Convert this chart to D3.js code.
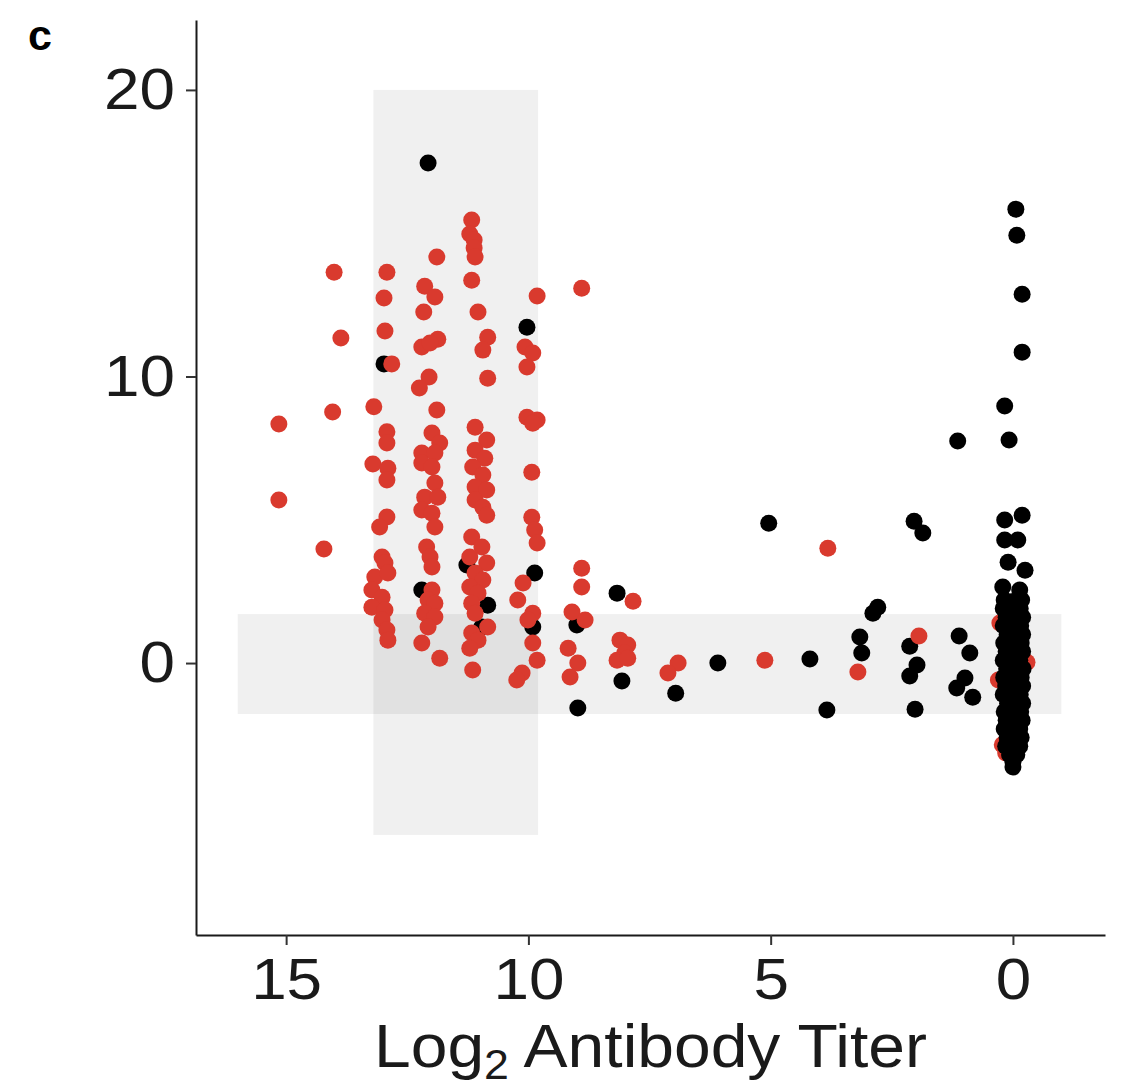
<!DOCTYPE html>
<html>
<head>
<meta charset="utf-8">
<script src="https://cdn.jsdelivr.net/npm/d3@7"></script>
<style>
  body { margin: 0; background: #fff; }
  text { font-family: "Liberation Sans", Arial, Helvetica, sans-serif; }
</style>
</head>
<body>
<div id="chart"></div>
<script>
const xTicks = [15, 10, 5, 0];
const yTicks = [0, 10, 20];

// shaded reference bands: [x0, x1, y0, y1] in data units
const titerBand = [9.8, 13.2, -6.0, 20.0];
const valueBand = [-1.0, 16.0, -1.78, 1.71];

// [log2 titer, value]
const redPoints = [
  [15.15, 8.34], [15.15, 5.69], [14.22, 3.98], [14.04, 8.76], [13.87, 11.34], [14.01, 13.64],
  [12.92, 13.64], [12.98, 12.74], [12.96, 11.59], [12.82, 10.44], [13.19, 8.94], [12.92, 8.07],
  [12.92, 7.68], [13.21, 6.95], [12.90, 6.80], [12.92, 6.39], [12.92, 5.10], [13.07, 4.75],
  [13.02, 3.70], [12.96, 3.49], [13.17, 3.00], [12.90, 3.14], [13.23, 2.55], [13.02, 2.30],
  [13.23, 1.95], [12.96, 1.85], [13.02, 1.50], [12.92, 1.15], [12.90, 0.80],
  [11.89, 14.17], [12.14, 13.15], [11.93, 12.77], [12.16, 12.25], [12.20, 11.03], [11.87, 11.30],
  [12.03, 11.17], [12.05, 9.98], [12.25, 9.60], [11.89, 8.83], [11.99, 8.03], [11.83, 7.68],
  [12.20, 7.33], [11.93, 7.33], [12.20, 6.98], [11.99, 6.84], [11.93, 6.28], [12.14, 5.79],
  [11.87, 5.79], [12.20, 5.34], [11.99, 5.23], [11.93, 4.75], [12.10, 4.05], [12.03, 3.70],
  [11.99, 3.35], [11.99, 2.55], [12.07, 2.20], [11.93, 2.09], [12.14, 1.74], [11.93, 1.61],
  [12.07, 1.26], [12.20, 0.70], [11.83, 0.17],
  [11.17, 15.46], [11.21, 14.97], [11.12, 14.76], [11.12, 14.48], [11.10, 14.17], [11.17, 13.36],
  [11.04, 12.25], [10.84, 11.37], [10.94, 10.92], [10.84, 9.94], [11.10, 8.23], [10.86, 7.78],
  [11.10, 7.43], [10.90, 7.15], [11.15, 6.84], [10.94, 6.56], [11.10, 6.14], [10.86, 6.04],
  [11.10, 5.69], [10.94, 5.44], [10.86, 5.16], [11.17, 4.40], [10.96, 4.05], [11.21, 3.70],
  [10.86, 3.49], [11.10, 3.14], [10.94, 2.90], [11.21, 2.65], [11.04, 2.44], [11.17, 2.09],
  [11.10, 1.74], [10.84, 1.26], [11.17, 1.05], [11.04, 0.80], [11.21, 0.52], [11.15, -0.24],
  [9.82, 12.81], [10.07, 11.03], [9.91, 10.82], [10.03, 10.33], [10.03, 8.58], [9.82, 8.48],
  [9.91, 8.37], [9.93, 6.66], [9.93, 5.09], [9.87, 4.64], [9.82, 4.19], [10.11, 2.79],
  [10.22, 2.20], [9.91, 1.74], [10.01, 1.50], [9.91, 0.70], [9.82, 0.10], [10.13, -0.35],
  [10.24, -0.59],
  [8.90, 13.08], [8.90, 3.31], [8.90, 2.65], [9.10, 1.78], [8.83, 1.50], [9.18, 0.52],
  [8.98, 0.00], [9.14, -0.49],
  [7.84, 2.16], [8.11, 0.80], [7.95, 0.63], [8.01, 0.35], [8.17, 0.10], [7.95, 0.17],
  [6.91, 0.00], [7.12, -0.35], [5.12, 0.10], [3.82, 4.01], [3.20, -0.31], [1.94, 0.94]
];

// red points sitting inside the titer-0 cluster (drawn underneath)
const redZero = [[0.27, 1.40], [-0.29, 0.03], [0.30, -0.59], [0.15, -3.14], [0.22, -2.85]];

const blackPoints = [
  [12.07, 17.45], [12.20, 2.55], [12.98, 10.44], [11.27, 3.42], [10.84, 2.02], [10.96, 1.26],
  [10.03, 11.72], [9.87, 3.14], [9.91, 1.26], [9.00, 1.33], [8.98, -1.57], [8.17, 2.44],
  [8.07, -0.63], [6.96, -1.05], [6.09, 0.00], [5.04, 4.88], [4.19, 0.14], [3.84, -1.64],
  [2.89, 1.74], [2.79, 1.95], [3.16, 0.91], [3.12, 0.35], [2.04, 4.95], [1.86, 4.54],
  [2.13, 0.59], [1.98, -0.07], [2.13, -0.45], [2.02, -1.61], [1.14, 7.75], [1.11, 0.94],
  [0.89, 0.35], [0.99, -0.52], [1.16, -0.87], [0.83, -1.19]
];

const blackZero = [
  [-0.06, 15.84], [-0.08, 14.93], [-0.19, 12.87], [-0.19, 10.85], [0.17, 8.97], [0.08, 7.78],
  [0.17, 4.99], [-0.19, 5.16], [0.17, 4.29], [-0.10, 4.29], [0.10, 3.52], [-0.25, 3.24],
  [0.21, 2.65], [-0.14, 2.55],
  [0.18, 2.2], [0.0, 2.15], [-0.18, 2.2], [0.2, 1.9], [0.05, 1.9], [-0.15, 1.9],
  [0.14, 1.6], [-0.04, 1.6], [-0.2, 1.6], [0.2, 1.3], [0.03, 1.3], [-0.16, 1.3],
  [0.12, 1.0], [-0.07, 1.0], [-0.2, 1.0], [0.19, 0.7], [0.01, 0.7], [-0.17, 0.7],
  [0.14, 0.4], [-0.05, 0.4], [-0.2, 0.4], [0.2, 0.1], [0.03, 0.1], [-0.14, 0.1],
  [0.13, -0.2], [-0.07, -0.2], [-0.21, -0.2], [0.19, -0.5], [0.0, -0.5], [-0.17, -0.5],
  [0.15, -0.8], [-0.04, -0.8], [-0.2, -0.8], [0.2, -1.1], [0.03, -1.1], [-0.15, -1.1],
  [0.11, -1.4], [-0.08, -1.4], [-0.2, -1.4], [0.18, -1.7], [0.0, -1.7], [-0.16, -1.7],
  [0.14, -2.0], [-0.05, -2.0], [-0.19, -2.0], [0.18, -2.3], [0.02, -2.3], [-0.14, -2.3],
  [0.12, -2.6], [-0.07, -2.6], [-0.17, -2.6], [0.15, -2.9], [0.0, -2.9], [-0.14, -2.9],
  [0.07, -3.2], [-0.08, -3.2], [0.0, -3.45], [0.0, -3.63]
];

const width = 1124, height = 1088;
const margin = { left: 196, right: 19, top: 20, bottom: 153 };
const red = "#d93a2e";

const svg = d3.select("#chart").append("svg")
  .attr("width", width)
  .attr("height", height)
  .style("background", "#fff");

const x = d3.scaleLinear()
  .domain([16.86, -1.90])
  .range([margin.left, width - margin.right]);

const y = d3.scaleLinear()
  .domain([-9.49, 22.44])
  .range([height - margin.bottom, margin.top]);

// bands
[titerBand, valueBand].forEach(b => {
  svg.append("rect")
    .attr("x", x(b[1]))
    .attr("y", y(b[3]))
    .attr("width", x(b[0]) - x(b[1]))
    .attr("height", y(b[2]) - y(b[3]))
    .attr("fill", "#000")
    .attr("fill-opacity", 0.058);
});

function drawDots(data, color) {
  svg.append("g")
    .selectAll("circle")
    .data(data)
    .enter().append("circle")
    .attr("cx", d => x(d[0]))
    .attr("cy", d => y(d[1]))
    .attr("r", 8.5)
    .attr("fill", color);
}

drawDots(redZero, red);
drawDots(blackPoints, "#000");
drawDots(blackZero, "#000");
drawDots(redPoints, red);

// axes
const xAxis = svg.append("g")
  .attr("transform", `translate(0,${height - margin.bottom})`)
  .call(d3.axisBottom(x).tickValues(xTicks).tickSize(10).tickSizeOuter(0).tickPadding(13));

const yAxis = svg.append("g")
  .attr("transform", `translate(${margin.left},0)`)
  .call(d3.axisLeft(y).tickValues(yTicks).tickSize(10).tickSizeOuter(0).tickPadding(11));

[xAxis, yAxis].forEach(g => {
  g.select(".domain").attr("stroke", "#1a1a1a").attr("stroke-width", 2);
  g.selectAll(".tick line").attr("stroke", "#333").attr("stroke-width", 2);
  g.selectAll(".tick text")
    .attr("fill", "#1a1a1a")
    .style("font-size", "58px")
    .style("font-family", "'Liberation Sans', Arial, sans-serif");
});

// the original figure is slightly stretched horizontally
xAxis.selectAll(".tick text").attr("transform", "scale(1.1,1)");
yAxis.selectAll(".tick text").attr("transform", "translate(-21,0) scale(1.1,1) translate(21,0)");

// axis title
const title = svg.append("text")
  .attr("x", (margin.left + width - margin.right) / 2)
  .attr("y", 1067)
  .attr("text-anchor", "middle")
  .attr("fill", "#1a1a1a")
  .attr("textLength", 553)
  .attr("lengthAdjust", "spacingAndGlyphs")
  .style("font-size", "62px");
title.append("tspan").text("Log");
title.append("tspan").attr("dy", 12).style("font-size", "42px").text("2");
title.append("tspan").attr("dy", -12).text(" Antibody Titer");

// panel tag
svg.append("text")
  .attr("x", 28)
  .attr("y", 50)
  .attr("fill", "#000")
  .style("font-size", "43px")
  .style("font-weight", "bold")
  .text("c");
</script>
</body>
</html>
